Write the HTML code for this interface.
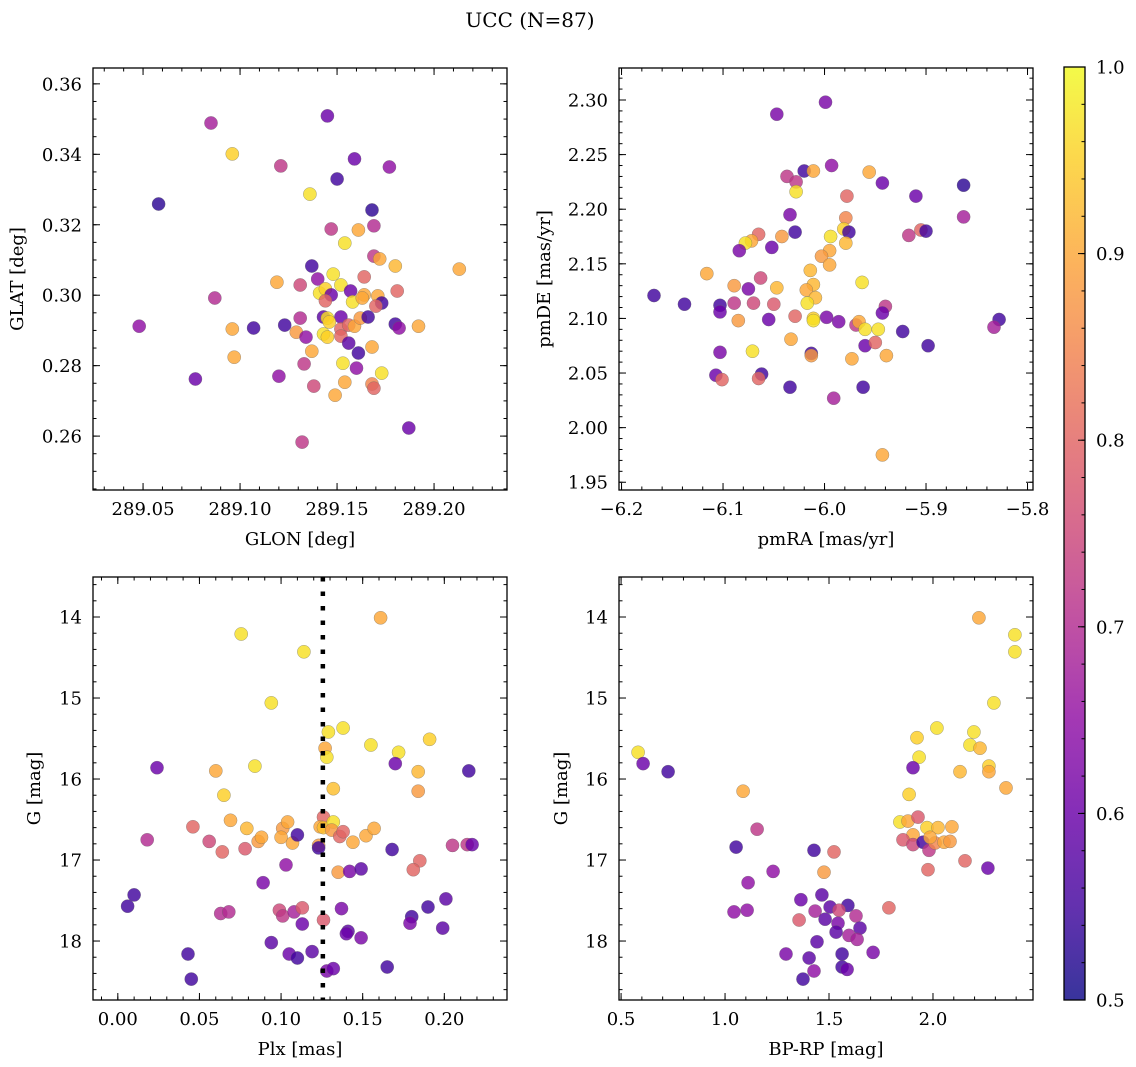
<!DOCTYPE html>
<html><head><meta charset="utf-8"><style>
html,body{margin:0;padding:0;background:#fff;}
svg{display:block;font-family:"DejaVu Serif","Liberation Serif",serif;}
</style></head><body>
<svg id="fig" width="1136" height="1067" viewBox="0 0 1136 1067" xmlns="http://www.w3.org/2000/svg">
<text x="530" y="27" text-anchor="middle" font-size="20">UCC (N=87)</text>
</svg>
<script>
// ---- Panel 1: GLON vs GLAT ----
const glonP1 = [289.085,289.145,289.096,289.121,289.159,289.177,289.058,289.150,289.136,289.168,289.147,289.161,289.154,289.169,289.169,289.172,289.213,289.180,289.137,289.164,289.119,289.131,289.140,289.148,289.152,289.141,289.144,289.147,289.157,289.144,289.158,289.164,289.163,289.171,289.173,289.170,289.181,289.087,289.048,289.096,289.107,289.123,289.131,289.129,289.134,289.143,289.145,289.152,289.146,289.152,289.156,289.159,289.162,289.166,289.180,289.182,289.192,289.143,289.145,289.152,289.156,289.161,289.137,289.168,289.097,289.133,289.153,289.160,289.173,289.120,289.077,289.138,289.154,289.168,289.169,289.149,289.187,289.132];
const glatP1 = [0.3489,0.3509,0.3401,0.3367,0.3387,0.3364,0.3259,0.3330,0.3287,0.3242,0.3188,0.3185,0.3148,0.3197,0.3111,0.3103,0.3074,0.3083,0.3083,0.3052,0.3037,0.3029,0.3046,0.3060,0.3029,0.3006,0.3018,0.3001,0.3012,0.2984,0.2981,0.3001,0.2992,0.2998,0.2978,0.2969,0.3012,0.2992,0.2912,0.2904,0.2907,0.2915,0.2935,0.2895,0.2881,0.2938,0.2935,0.2938,0.2924,0.2904,0.2915,0.2912,0.2935,0.2938,0.2918,0.2907,0.2912,0.2890,0.2881,0.2884,0.2864,0.2836,0.2841,0.2853,0.2824,0.2805,0.2807,0.2793,0.2779,0.2770,0.2762,0.2742,0.2753,0.2748,0.2736,0.2716,0.2623,0.2583];
const probP1 = [0.68,0.60,0.95,0.72,0.60,0.65,0.53,0.55,0.97,0.53,0.72,0.90,0.97,0.70,0.72,0.90,0.90,0.92,0.55,0.80,0.90,0.75,0.65,0.97,0.97,0.97,0.95,0.60,0.60,0.80,0.97,0.90,0.90,0.90,0.55,0.80,0.80,0.70,0.65,0.90,0.55,0.55,0.70,0.88,0.65,0.58,0.97,0.60,0.95,0.80,0.80,0.90,0.88,0.55,0.55,0.65,0.90,0.97,0.95,0.80,0.58,0.55,0.90,0.90,0.90,0.72,0.97,0.65,0.97,0.65,0.60,0.75,0.90,0.85,0.80,0.90,0.60,0.72];

// ---- Panel 2: pmRA vs pmDE ----
const pmraP2 = [-5.999,-6.047,-6.020,-6.011,-5.993,-5.956,-5.943,-5.910,-5.863,-5.863,-6.037,-6.028,-6.028,-5.978,-6.034,-5.979,-5.981,-5.976,-5.979,-5.994,-6.029,-6.042,-6.065,-6.072,-6.078,-6.084,-6.052,-5.917,-5.905,-5.900,-5.995,-6.003,-5.995,-6.014,-5.963,-6.011,-6.116,-6.063,-6.089,-6.075,-6.047,-6.018,-6.009,-6.017,-6.168,-6.138,-6.103,-6.103,-6.089,-6.070,-6.050,-6.085,-6.055,-6.029,-6.011,-6.011,-5.998,-5.986,-5.969,-5.966,-5.960,-5.947,-5.940,-5.943,-5.923,-5.828,-5.833,-5.898,-5.960,-5.950,-6.033,-6.071,-6.013,-6.013,-6.103,-5.973,-5.939,-6.107,-6.101,-6.062,-6.065,-6.034,-5.962,-5.991,-5.943];
const pmdeP2 = [2.298,2.287,2.235,2.235,2.240,2.234,2.224,2.212,2.222,2.193,2.230,2.225,2.216,2.212,2.195,2.192,2.182,2.179,2.169,2.175,2.179,2.175,2.177,2.171,2.169,2.162,2.165,2.176,2.181,2.180,2.162,2.157,2.149,2.144,2.133,2.131,2.141,2.137,2.130,2.127,2.128,2.126,2.119,2.114,2.121,2.113,2.112,2.106,2.114,2.114,2.113,2.098,2.099,2.102,2.100,2.098,2.101,2.097,2.094,2.097,2.090,2.090,2.111,2.105,2.088,2.099,2.092,2.075,2.075,2.078,2.081,2.070,2.068,2.066,2.069,2.063,2.066,2.048,2.044,2.049,2.045,2.037,2.037,2.027,1.975];
const probP2 = [0.62,0.62,0.55,0.90,0.65,0.90,0.60,0.60,0.53,0.68,0.72,0.72,0.97,0.80,0.62,0.85,0.95,0.55,0.92,0.97,0.55,0.88,0.80,0.90,0.97,0.62,0.60,0.72,0.80,0.55,0.90,0.88,0.90,0.92,0.97,0.92,0.90,0.75,0.88,0.62,0.92,0.90,0.92,0.97,0.55,0.55,0.55,0.60,0.72,0.75,0.78,0.88,0.60,0.80,0.95,0.97,0.62,0.62,0.72,0.90,0.97,0.97,0.72,0.60,0.55,0.55,0.68,0.55,0.60,0.80,0.90,0.97,0.55,0.88,0.62,0.90,0.90,0.60,0.80,0.55,0.80,0.55,0.55,0.68,0.90];

// ---- Panel 3: Plx vs G ----
const plxP3 = [0.0756,0.114,0.161,0.094,0.129,0.138,0.127,0.128,0.155,0.172,0.191,0.170,0.184,0.215,0.024,0.060,0.084,0.065,0.132,0.184,0.069,0.079,0.046,0.018,0.056,0.064,0.078,0.086,0.088,0.101,0.104,0.100,0.107,0.110,0.103,0.089,0.126,0.124,0.126,0.132,0.131,0.136,0.138,0.144,0.152,0.157,0.123,0.123,0.168,0.135,0.142,0.149,0.185,0.181,0.205,0.214,0.217,0.006,0.010,0.063,0.068,0.099,0.101,0.108,0.113,0.113,0.126,0.137,0.141,0.140,0.149,0.180,0.179,0.190,0.201,0.199,0.043,0.045,0.094,0.105,0.110,0.119,0.128,0.132,0.165];
const gP3 = [14.21,14.43,14.01,15.06,15.42,15.37,15.62,15.73,15.58,15.67,15.51,15.81,15.91,15.90,15.86,15.90,15.84,16.20,16.12,16.15,16.51,16.61,16.59,16.75,16.77,16.90,16.86,16.77,16.72,16.61,16.53,16.72,16.79,16.69,17.06,17.28,16.47,16.59,16.60,16.53,16.63,16.71,16.65,16.78,16.70,16.61,16.82,16.85,16.87,17.15,17.14,17.11,17.01,17.12,16.82,16.81,16.81,17.57,17.43,17.66,17.64,17.62,17.69,17.64,17.59,17.79,17.74,17.60,17.88,17.91,17.96,17.70,17.78,17.58,17.48,17.84,18.16,18.47,18.02,18.16,18.21,18.13,18.37,18.34,18.32];
const probP3 = [0.97,0.97,0.90,0.97,0.97,0.97,0.90,0.97,0.97,0.97,0.95,0.60,0.92,0.55,0.60,0.90,0.97,0.95,0.93,0.88,0.90,0.92,0.80,0.70,0.75,0.80,0.78,0.88,0.90,0.88,0.90,0.90,0.90,0.55,0.65,0.62,0.80,0.90,0.93,0.97,0.88,0.80,0.80,0.90,0.90,0.90,0.88,0.55,0.55,0.88,0.62,0.58,0.80,0.80,0.72,0.72,0.60,0.55,0.55,0.70,0.70,0.75,0.72,0.68,0.78,0.60,0.78,0.62,0.58,0.60,0.62,0.55,0.62,0.55,0.58,0.58,0.55,0.55,0.58,0.60,0.55,0.58,0.62,0.60,0.55];

// ---- Panel 4: BP-RP vs G ----
const bprpP4 = [0.582,0.606,0.726,2.221,2.394,2.394,2.293,2.019,2.197,1.923,2.178,2.226,1.933,2.269,2.269,1.904,2.130,2.351,1.885,1.087,1.841,1.880,1.928,1.971,2.024,2.091,1.904,1.856,1.904,1.952,1.981,2.010,2.053,2.082,1.986,2.154,1.976,2.264,1.154,1.053,1.428,1.524,1.476,1.231,1.111,1.788,1.043,1.106,1.365,1.466,1.505,1.591,1.548,1.433,1.630,1.356,1.481,1.543,1.649,1.534,1.596,1.635,1.442,1.712,1.293,1.563,1.404,1.563,1.587,1.428,1.375];
const gP4 = [15.67,15.81,15.91,14.01,14.22,14.43,15.06,15.37,15.42,15.49,15.58,15.62,15.73,15.84,15.91,15.86,15.91,16.11,16.19,16.15,16.53,16.52,16.47,16.60,16.60,16.59,16.69,16.75,16.81,16.78,16.88,16.79,16.78,16.77,16.72,17.01,17.12,17.10,16.62,16.84,16.88,16.90,17.15,17.14,17.28,17.59,17.64,17.62,17.49,17.43,17.58,17.56,17.62,17.63,17.69,17.74,17.73,17.78,17.84,17.89,17.93,17.98,18.01,18.14,18.16,18.16,18.21,18.32,18.35,18.37,18.47];
const probP4 = [0.97,0.60,0.55,0.90,0.97,0.97,0.97,0.97,0.97,0.95,0.97,0.92,0.97,0.95,0.90,0.60,0.92,0.90,0.95,0.90,0.97,0.90,0.78,0.95,0.92,0.90,0.90,0.78,0.75,0.55,0.72,0.85,0.90,0.88,0.90,0.80,0.80,0.60,0.72,0.55,0.55,0.80,0.88,0.65,0.65,0.80,0.65,0.65,0.60,0.58,0.58,0.55,0.75,0.68,0.70,0.78,0.58,0.62,0.58,0.58,0.68,0.68,0.58,0.62,0.62,0.55,0.58,0.55,0.60,0.65,0.55];

// colorbar
const cbTicks = [0.5,0.6,0.7,0.8,0.9,1.0];
const cbMin = 0.5, cbMax = 1.0;
const plasmaStops = ['#0d0887','#41049d','#6a00a8','#8f0da4','#b12a90','#cc4778','#e16462','#f2844b','#fca636','#fcce25','#f0f921'];
const plxLine = 0.1256;

const NS = 'http://www.w3.org/2000/svg';
const svg = document.getElementById('fig');
const FS = 18;
function mk(tag, attrs, parent){
  const e = document.createElementNS(NS, tag);
  for (const k in attrs) e.setAttribute(k, attrs[k]);
  (parent||svg).appendChild(e);
  return e;
}
function hex(h){return [parseInt(h.slice(1,3),16),parseInt(h.slice(3,5),16),parseInt(h.slice(5,7),16)];}
function plasma(v){
  let t = (v - cbMin)/(cbMax - cbMin); t = Math.max(0, Math.min(1, t));
  const n = plasmaStops.length - 1, i = Math.min(n-1, Math.floor(t*n)), f = t*n - i;
  const a = hex(plasmaStops[i]), b = hex(plasmaStops[i+1]);
  return 'rgb(' + a.map((c,j)=>Math.round(c+(b[j]-c)*f)).join(',') + ')';
}

function panel(cfg){
  const g = mk('g', {});
  
  
  const {L,T,R,B} = cfg;
  const sx = v => L + (v - cfg.xmin)/(cfg.xmax - cfg.xmin)*(R-L);
  const sy = v => cfg.yinv ? T + (v - cfg.ymin)/(cfg.ymax - cfg.ymin)*(B-T) : B - (v - cfg.ymin)/(cfg.ymax - cfg.ymin)*(B-T);
  const clip = mk('clipPath', {id: cfg.name+'-clip'}, g);
  mk('rect', {x:L, y:T, width:R-L, height:B-T}, clip);
  const pts = mk('g', {'clip-path':'url(#'+cfg.name+'-clip)'}, g);
  
  
  for (let i=0;i<cfg.xs.length;i++){
    const c = mk('circle', {cx:sx(cfg.xs[i]).toFixed(1), cy:sy(cfg.ys[i]).toFixed(1), r:6.6, fill:plasma(cfg.cs[i]), 'fill-opacity':0.82, stroke:'#666', 'stroke-opacity':0.6, 'stroke-width':0.5}, pts);
    
    
  }
  if (cfg.vline !== undefined){
    const l = mk('line', {x1:sx(cfg.vline), x2:sx(cfg.vline), y1:T, y2:B, stroke:'#000', 'stroke-width':4.5, 'stroke-dasharray':'4.5 10'}, pts);
    
    
  }
  const tk = mk('g', {stroke:'#000', 'stroke-width':1}, g);
  const eps = 1e-9;
  function ticks(min,max,step){const a=[];let s=Math.ceil((min-eps)/step);for(let v=s*step;v<=max+eps;v+=step)a.push(Math.round(v/step)*step);return a;}
  ticks(cfg.xmin,cfg.xmax,cfg.xminor).forEach(v=>{const x=sx(v);mk('line',{x1:x,x2:x,y1:B,y2:B-3.5},tk);mk('line',{x1:x,x2:x,y1:T,y2:T+3.5},tk);});
  ticks(cfg.ymin,cfg.ymax,cfg.yminor).forEach(v=>{const y=sy(v);mk('line',{x1:L,x2:L+3.5,y1:y,y2:y},tk);mk('line',{x1:R,x2:R-3.5,y1:y,y2:y},tk);});
  cfg.xticks.forEach(v=>{
    const x=sx(v);mk('line',{x1:x,x2:x,y1:B,y2:B-7},tk);mk('line',{x1:x,x2:x,y1:T,y2:T+7},tk);
    const t=mk('text',{x:x,y:B+25,'text-anchor':'middle','font-size':FS},g);
    
    
    t.textContent=cfg.xfmt(v);
  });
  cfg.yticks.forEach(v=>{
    const y=sy(v);mk('line',{x1:L,x2:L+7,y1:y,y2:y},tk);mk('line',{x1:R,x2:R-7,y1:y,y2:y},tk);
    const t=mk('text',{x:L-11,y:y+6.5,'text-anchor':'end','font-size':FS},g);
    
    
    t.textContent=cfg.yfmt(v);
  });
  mk('rect',{x:L,y:T,width:R-L,height:B-T,fill:'none',stroke:'#000','stroke-width':1.3},g);
  const xl=mk('text',{x:(L+R)/2,y:B+55,'text-anchor':'middle','font-size':FS},g);
  
  
  xl.textContent=cfg.xlabel;
  const yx=cfg.ylabelX, yy=(T+B)/2;
  const yl=mk('text',{x:yx,y:yy,'text-anchor':'middle','font-size':FS,transform:'rotate(-90 '+yx+' '+yy+')'},g);
  
  
  yl.textContent=cfg.ylabel;
}
const minus = s => s.replace('-', '\u2212');

panel({name:'glon-glat-panel',L:93,T:68,R:507,B:490,xmin:289.0242,xmax:289.2376,ymin:0.2447,ymax:0.3645,
  xs:glonP1,ys:glatP1,cs:probP1,xticks:[289.05,289.10,289.15,289.20],xminor:0.01,yticks:[0.26,0.28,0.30,0.32,0.34,0.36],yminor:0.005,
  xfmt:v=>v.toFixed(2),yfmt:v=>v.toFixed(2),xlabel:'GLON [deg]',ylabel:'GLAT [deg]',ylabelX:23});
panel({name:'pm-panel',L:619,T:68,R:1033,B:490,xmin:-6.2025,xmax:-5.7946,ymin:1.9429,ymax:2.3293,
  xs:pmraP2,ys:pmdeP2,cs:probP2,xticks:[-6.2,-6.1,-6.0,-5.9,-5.8],xminor:0.02,yticks:[1.95,2.00,2.05,2.10,2.15,2.20,2.25,2.30],yminor:0.01,
  xfmt:v=>minus(v.toFixed(1)),yfmt:v=>v.toFixed(2),xlabel:'pmRA [mas/yr]',ylabel:'pmDE [mas/yr]',ylabelX:550});
panel({name:'plx-g-panel',L:93,T:577,R:507,B:1000,xmin:-0.0152,xmax:0.2384,ymin:13.506,ymax:18.728,yinv:true,
  xs:plxP3,ys:gP3,cs:probP3,xticks:[0,0.05,0.10,0.15,0.20],xminor:0.01,yticks:[14,15,16,17,18],yminor:0.2,vline:plxLine,
  xfmt:v=>v.toFixed(2),yfmt:v=>String(v),xlabel:'Plx [mas]',ylabel:'G [mag]',ylabelX:40});
panel({name:'cmd-panel',L:619,T:577,R:1033,B:1000,xmin:0.49,xmax:2.481,ymin:13.506,ymax:18.728,yinv:true,
  xs:bprpP4,ys:gP4,cs:probP4,xticks:[0.5,1.0,1.5,2.0],xminor:0.1,yticks:[14,15,16,17,18],yminor:0.2,
  xfmt:v=>v.toFixed(1),yfmt:v=>String(v),xlabel:'BP-RP [mag]',ylabel:'G [mag]',ylabelX:567});

(function(){
  const L=1064,R=1085,T=67,B=1000;
  const g=mk('g',{});
  
  
  const defs=mk('defs',{},g);
  const lg=mk('linearGradient',{id:'cbgrad',x1:0,y1:1,x2:0,y2:0},defs);
  for(let i=0;i<=40;i++){const v=cbMin+(cbMax-cbMin)*i/40;mk('stop',{offset:(i/40),'stop-color':plasma(v),'stop-opacity':0.82},lg);}
  mk('rect',{x:L,y:T,width:R-L,height:B-T,fill:'url(#cbgrad)'},g);
  const sy=v=>B-(v-cbMin)/(cbMax-cbMin)*(B-T);
  for(let k=0;k<=25;k++){const v=cbMin+k*0.02;const y=sy(v);mk('line',{x1:R,x2:R-3.5,y1:y,y2:y,stroke:'#000','stroke-width':1},g);}
  cbTicks.forEach(v=>{const y=sy(v);mk('line',{x1:R,x2:R-7,y1:y,y2:y,stroke:'#000','stroke-width':1},g);
    const t=mk('text',{x:R+11,y:y+6.5,'font-size':FS},g);
    
    
    t.textContent=v.toFixed(1);});
  mk('rect',{x:L,y:T,width:R-L,height:B-T,fill:'none',stroke:'#000','stroke-width':1.3},g);
})();
</script>
</body></html>
